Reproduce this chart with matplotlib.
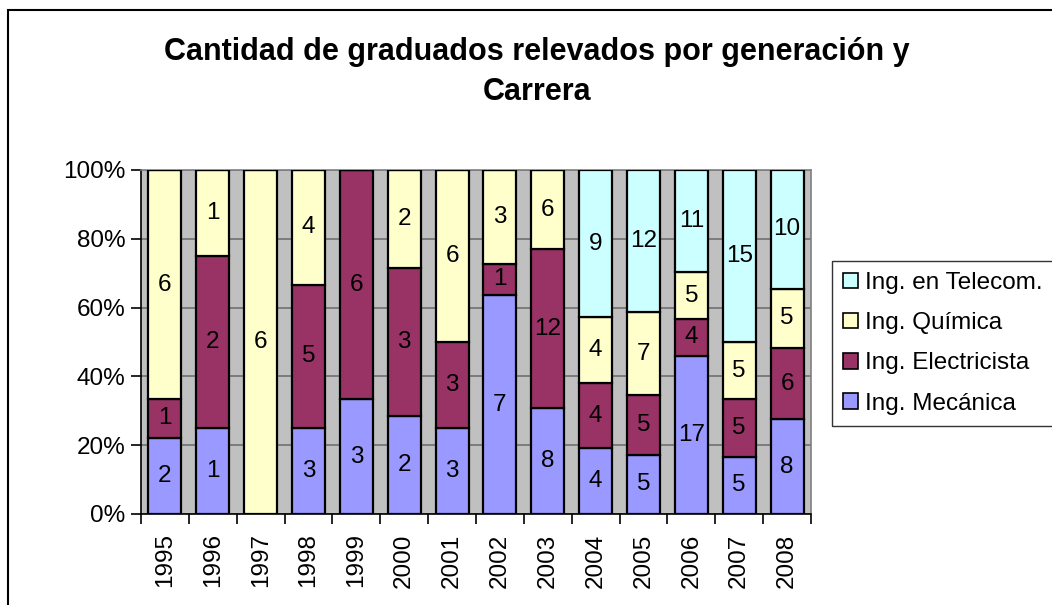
import matplotlib
matplotlib.use("Agg")
import matplotlib.pyplot as plt
from matplotlib.patches import Rectangle, Patch
import numpy as np

years = ["1995", "1996", "1997", "1998", "1999", "2000", "2001",
         "2002", "2003", "2004", "2005", "2006", "2007", "2008"]
mecanica = [2, 1, 0, 3, 3, 2, 3, 7, 8, 4, 5, 17, 5, 8]
electricista = [1, 2, 0, 5, 6, 3, 3, 1, 12, 4, 5, 4, 5, 6]
quimica = [6, 1, 6, 4, 0, 2, 6, 3, 6, 4, 7, 5, 5, 5]
telecom = [0, 0, 0, 0, 0, 0, 0, 0, 0, 9, 12, 11, 15, 10]

series_names = ["Ing. Mecánica", "Ing. Electricista", "Ing. Química", "Ing. en Telecom."]
colors = ["#9999FF", "#993366", "#FFFFCC", "#CCFFFF"]
title = "Cantidad de graduados relevados por generación y\nCarrera"

plt.rcParams['font.family'] = ['Liberation Sans', 'DejaVu Sans']

FS = 17.5
W, H = 1052, 605
fig = plt.figure(figsize=(W / 100, H / 100), dpi=100)
L, R, T, B = 141, 811, 170, 514
ax = fig.add_axes([L / W, 1 - B / H, (R - L) / W, (B - T) / H])
ax.set_facecolor("#C0C0C0")

data = np.array([mecanica, electricista, quimica, telecom], dtype=float)
totals = data.sum(axis=0)
pct = data / totals * 100
x = np.arange(len(years))
bottom = np.zeros(len(years))
handles = []
for i in range(4):
    ax.bar(x, pct[i], bottom=bottom, width=0.69, color=colors[i],
           edgecolor="black", linewidth=1.6, zorder=3)
    for j in range(len(years)):
        if data[i, j] > 0:
            ax.text(x[j], bottom[j] + pct[i, j] / 2, f"{int(data[i, j])}",
                    ha="center", va="center", fontsize=FS, color="black", zorder=4)
    handles.append(Patch(facecolor=colors[i], edgecolor="black", linewidth=1.2, label=series_names[i]))
    bottom += pct[i]

ax.set_xlim(-0.5, len(years) - 0.5)
ax.set_ylim(0, 100)
ax.set_yticks(np.arange(0, 101, 20))
ax.set_yticklabels([f"{v}%" for v in range(0, 101, 20)], fontsize=FS)
ax.yaxis.grid(True, color="#707070", linewidth=1.2, zorder=0)
ax.set_axisbelow(True)
ax.set_xticks(x)
ax.set_xticklabels(years, rotation=90, fontsize=FS)
ax.set_xticks(np.arange(-0.5, len(years)), minor=True)
ax.tick_params(axis="x", which="major", length=0, pad=14)
ax.tick_params(axis="x", which="minor", length=7, width=1.2, color="black")
ax.tick_params(axis="y", length=7, width=1.2, color="black", pad=4)
for s in ["top", "right"]:
    ax.spines[s].set_color("#808080")
    ax.spines[s].set_linewidth(1.2)
ax.spines["left"].set_color("black")
ax.spines["bottom"].set_color("black")
ax.spines["left"].set_linewidth(1.2)
ax.spines["bottom"].set_linewidth(1.2)

fig.text(537 / W, 1 - 72 / H, title, ha="center", va="center",
         fontsize=22, fontweight="bold", linespacing=1.45)

leg = fig.legend(handles=handles[::-1], loc="upper left",
                 bbox_to_anchor=(832 / W, 1 - 261 / H), fontsize=FS,
                 frameon=True, fancybox=False, edgecolor="black",
                 handlelength=0.6, handleheight=0.6, handletextpad=0.3,
                 labelspacing=0.75, borderpad=0.45, borderaxespad=0)
leg.get_frame().set_linewidth(1.0)

fig.patches.append(Rectangle((8 / W, -0.1), 1.2, 1 - 10 / H + 0.1,
                             transform=fig.transFigure, fill=False,
                             edgecolor="black", linewidth=1.5, zorder=0))

fig.savefig("out.png", dpi=100)
